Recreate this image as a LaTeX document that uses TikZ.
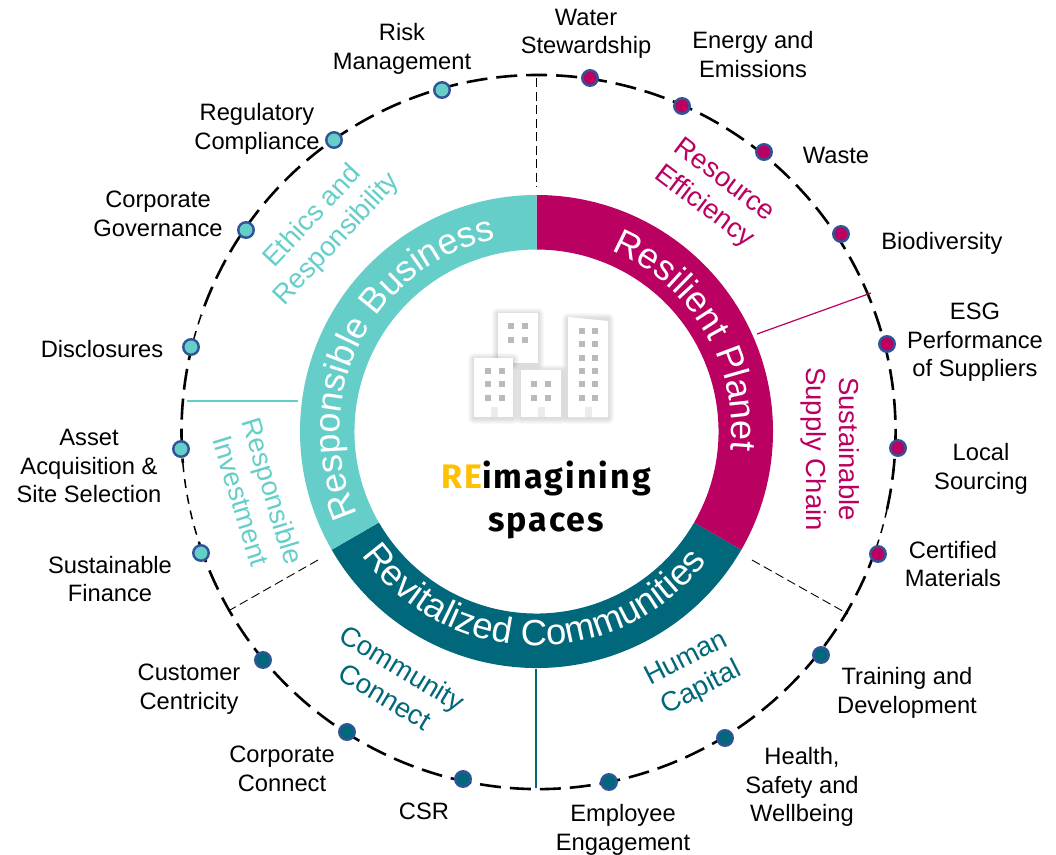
\documentclass[tikz,border=0pt]{standalone}
\usepackage{fontspec}
\setmainfont{Liberation Sans}
\newfontfamily\logofont[LetterSpace=6]{Fira Sans}
\usetikzlibrary{decorations.text,calc}
\definecolor{mag}{HTML}{BA0060}
\definecolor{tealL}{HTML}{66CEC9}
\definecolor{tealD}{HTML}{00687A}
\definecolor{dotedge}{HTML}{2F5597}
\definecolor{logoY}{HTML}{FFC000}
\tikzset{
  x=1pt,y=1pt,
  lab/.style={font=\fontsize{23.7}{28.6}\selectfont,align=center,text=black,inner sep=0pt},
  sec/.style={font=\fontsize{27.5}{33}\selectfont,align=center,inner sep=0pt},
  dotm/.style={circle,draw=dotedge,line width=2.4pt,minimum size=15.5pt,inner sep=0pt},
  rimA/.style={line width=2.6pt,dash pattern=on 21pt off 9pt,black},
  rimB/.style={line width=1.5pt,dash pattern=on 9pt off 7pt,black},
  spokedash/.style={line width=0.9pt,dash pattern=on 9pt off 4.5pt,black},
}
\newcommand{\arctext}[6]{%
  \path[decorate,decoration={text along path,text align=center,
    text={|\fontsize{#5}{#5}\selectfont\color{white}|#6}}]
   ([shift={(C)}]#2:#1) arc[start angle=#2,end angle=#3,radius=#1];}
\newcommand{\bldgshadow}[4]{%
  \foreach \s in {6,5,4,3,2,1}{\fill[black,opacity=0.022,rounded corners=\s pt] (#1-\s,-#2+\s-1) rectangle (#3+\s,-#4-\s-1);}}
\newcommand{\win}[2]{\fill[black!27] (#1,-#2) rectangle ++(6,-6);}
\newcommand{\door}[2]{\fill[black!8] (#1,-#2) rectangle ++(6.5,-10);}
\begin{document}
\begin{tikzpicture}
\useasboundingbox (0,0) rectangle (1056,-854);
\coordinate (C) at (536.5,-431.5);
\coordinate (O) at (538.5,-432);
% outer rim
\draw[rimA] ([shift={(O)}]-12.5:357) arc[start angle=-12.5,end angle=161,radius=357];
\draw[rimB] ([shift={(O)}]161:357) arc[start angle=161,end angle=165,radius=357];
\draw[rimA] ([shift={(O)}]165:357) arc[start angle=165,end angle=185,radius=357];
\draw[rimB] ([shift={(O)}]185:357) arc[start angle=185,end angle=198,radius=357];
\draw[rimA] ([shift={(O)}]198:357) arc[start angle=198,end angle=341,radius=357];
\draw[rimB] ([shift={(O)}]341:357) arc[start angle=341,end angle=347.5,radius=357];
% ring
\fill[tealD] ([shift={(C)}]210:236.5) arc[start angle=210,end angle=330,radius=236.5]
   -- ([shift={(C)}]330:182) arc[start angle=330,end angle=210,radius=182] -- cycle;
\fill[mag] ([shift={(C)}]90:236.5) arc[start angle=90,end angle=-30,radius=236.5]
   -- ([shift={(C)}]-30:182) arc[start angle=-30,end angle=90,radius=182] -- cycle;
\fill[tealL] ([shift={(C)}]90:236.5) arc[start angle=90,end angle=210,radius=236.5]
   -- ([shift={(C)}]210:182) arc[start angle=210,end angle=90,radius=182] -- cycle;
\arctext{195.5}{97}{-35}{}{36}{Resilient Planet}
\arctext{197}{218.5}{88.5}{}{36}{Responsible Business}
\arctext{214}{198.5}{339.5}{}{36.5}{Revitalized Communities}
% spokes
\coordinate (s1a) at (536,-78); \coordinate (s1b) at (536,-187);
\coordinate (s2a) at (757,-334); \coordinate (s2b) at (871,-293);
\coordinate (s3a) at (752,-560); \coordinate (s3b) at (848,-614);
\coordinate (s4a) at (536,-669); \coordinate (s4b) at (536,-788);
\coordinate (s5a) at (318,-560); \coordinate (s5b) at (230,-610);
\coordinate (s6a) at (298,-401); \coordinate (s6b) at (187,-401);
\draw[spokedash] (s1a) -- (s1b);
\draw[mag,line width=1.2pt] (s2a) -- (s2b);
\draw[spokedash] (s3a) -- (s3b);
\draw[tealD,line width=1.4pt] (s4a) -- (s4b);
\draw[spokedash] (s5a) -- (s5b);
\draw[tealL,line width=1.2pt] (s6a) -- (s6b);
% dots
\foreach \n/\x/\y in {a/590/78,b/682/106,c/764/152,d/841/234,e/887/344,f/898/448,g/878/554}
  \node[dotm,fill=mag] (d\n) at (\x,-\y) {};
\foreach \n/\x/\y in {h/821/655,i/725/738,j/609/782,k/463/779,l/347/732,m/263/660}
  \node[dotm,fill=tealD] (d\n) at (\x,-\y) {};
\foreach \n/\x/\y in {n/201/553,o/181/449,p/191/347,q/246/230,r/334/140,s/442/90}
  \node[dotm,fill=tealL] (d\n) at (\x,-\y) {};
% labels
\node[lab] (l1) at (402,-49) {Risk\\Management};
\node[lab] (l2) at (586,-34) {Water\\Stewardship};
\node[lab] (l3) at (753,-54.5) {Energy and\\Emissions};
\node[lab] (l4) at (836,-155) {Waste};
\node[lab] (l5) at (942,-243) {Biodiversity};
\node[lab] (l6) at (975,-342.5) {ESG\\Performance\\of Suppliers};
\node[lab] (l7) at (981,-469) {Local\\Sourcing};
\node[lab] (l8) at (953,-564) {Certified\\Materials};
\node[lab] (l9) at (907,-693) {Training and\\Development};
\node[lab] (l10) at (802,-787) {Health,\\Safety and\\Wellbeing};
\node[lab] (l11) at (623,-830) {Employee\\Engagement};
\node[lab] (l12) at (424,-811) {CSR};
\node[lab] (l13) at (282,-769) {Corporate\\Connect};
\node[lab] (l14) at (189,-689) {Customer\\Centricity};
\node[lab] (l15) at (110,-579) {Sustainable\\Finance};
\node[lab] (l16) at (89,-466) {Asset\\Acquisition \&\\Site Selection};
\node[lab] (l17) at (102,-349) {Disclosures};
\node[lab] (l18) at (158,-214) {Corporate\\Governance};
\node[lab] (l19) at (257,-129) {Regulatory\\Compliance};
% section labels
\node[sec,text=mag,rotate=-37] (t1) at (714,-194) {Resource\\Efficiency};
\node[sec,text=mag,rotate=-90] (t2) at (830,-449) {Sustainable\\Supply Chain};
\node[sec,text=tealD,rotate=27] (t3) at (694,-674) {Human\\Capital};
\node[sec,text=tealD,rotate=-31] (t4) at (394,-682) {Community\\Connect};
\node[sec,text=tealL,rotate=-73] (t5) at (257,-496) {Responsible\\Investment};
\node[sec,text=tealL,rotate=47] (t6) at (325,-228) {Ethics and\\Responsibility};
% buildings
\bldgshadow{498}{313}{538}{363}
\fill[white] (498,-313) rectangle (538,-363);
\win{507.5}{323}\win{521.5}{323}\win{507.5}{336.5}\win{521.5}{336.5}
\bldgshadow{474}{358}{513}{417}
\fill[white] (474,-358) rectangle (513,-417);
\win{484.5}{367.5}\win{498.5}{367.5}\win{484.5}{381}\win{498.5}{381}\win{484.5}{394.5}\win{498.5}{394.5}\door{491}{407}
\bldgshadow{521}{370}{561}{417}
\fill[white] (521,-370) rectangle (561,-417);
\win{531}{381}\win{544.5}{381}\win{531}{394.5}\win{544.5}{394.5}\door{538}{407}
\bldgshadow{568}{318}{608}{417}
\fill[white] (568,-317) -- (608,-321) -- (608,-417) -- (568,-417) -- cycle;
\foreach \y in {328,341,354.5,367.5,381,394.5}{\win{578.5}{\y}\win{592}{\y}}
\door{585}{407}
% logo
\node[inner sep=0pt,anchor=base west,font=\logofont\bfseries\fontsize{34}{34}\selectfont] (logoa) at (441,-488) {\textcolor{logoY}{RE}imagining};
\node[inner sep=0pt,anchor=base,font=\logofont\bfseries\fontsize{34}{34}\selectfont] (logob) at (546,-531) {spaces};
\end{tikzpicture}
\end{document}
